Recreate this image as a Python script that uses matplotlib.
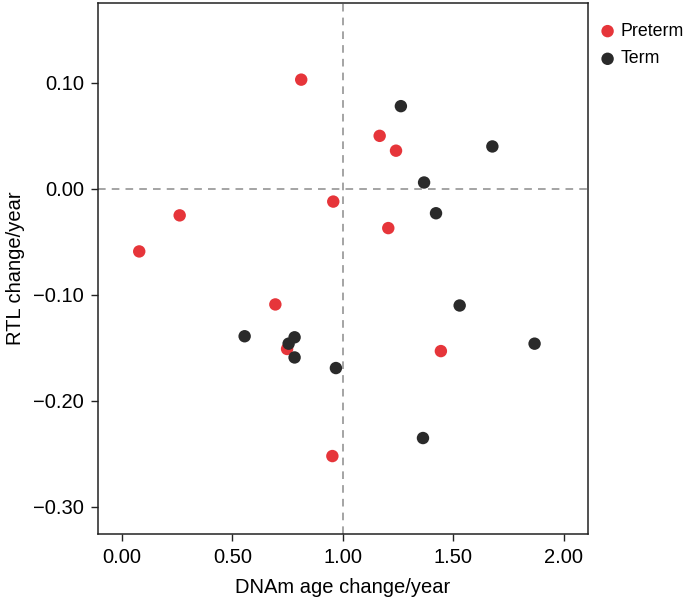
import matplotlib
matplotlib.use("Agg")
import matplotlib.pyplot as plt

plt.rcParams['font.family'] = ['Liberation Sans', 'DejaVu Sans']

preterm_x = [0.811, 0.956, 0.261, 0.078, 1.166, 1.240, 1.205, 0.694, 0.747, 0.952, 1.443]
preterm_y = [0.103, -0.012, -0.025, -0.059, 0.050, 0.036, -0.037, -0.109, -0.151, -0.252, -0.153]

term_x = [1.262, 1.676, 1.367, 1.421, 0.555, 0.781, 0.754, 0.781, 0.968, 1.528, 1.867, 1.362]
term_y = [0.078, 0.040, 0.006, -0.023, -0.139, -0.140, -0.146, -0.159, -0.169, -0.110, -0.146, -0.235]

xticks = [0.0, 0.5, 1.0, 1.5, 2.0]
xtick_labels = ['0.00', '0.50', '1.00', '1.50', '2.00']
yticks = [-0.3, -0.2, -0.1, 0.0, 0.1]
ytick_labels = ['\u22120.30', '\u22120.20', '\u22120.10', '0.00', '0.10']

red = '#E6353A'
dark = '#2A2A2A'

fig = plt.figure(figsize=(6.85, 6.0), dpi=100)
ax = fig.add_axes([0.1426, 0.11, 0.7162, 0.8845])

ax.axvline(1.0, color='#8c8c8c', lw=1.1, ls=(0, (5, 4)), zorder=1)
ax.axhline(0.0, color='#8c8c8c', lw=1.1, ls=(0, (5, 4)), zorder=1)

ax.scatter(preterm_x, preterm_y, s=80, color=red, edgecolors='none', label='Preterm', zorder=3)
ax.scatter(term_x, term_y, s=80, color=dark, edgecolors='none', label='Term', zorder=4)

ax.set_xlim(-0.11, 2.11)
ax.set_ylim(-0.3255, 0.175)
ax.set_xticks(xticks)
ax.set_xticklabels(xtick_labels)
ax.set_yticks(yticks)
ax.set_yticklabels(ytick_labels)
ax.tick_params(direction='out', length=5, width=1, labelsize=14.5, color='#222222', pad=5)
for sp in ax.spines.values():
    sp.set_linewidth(1.1)
    sp.set_color('#222222')

ax.set_xlabel('DNAm age change/year', fontsize=14.5, labelpad=8)
ax.set_ylabel('RTL change/year', fontsize=14.5, labelpad=6)

handles, labels = ax.get_legend_handles_labels()
leg = fig.legend(handles, labels, loc='upper left', bbox_to_anchor=(0.874, 0.962),
                 frameon=False, fontsize=12.8, handlelength=1.0, handletextpad=0.25,
                 borderaxespad=0, borderpad=0, labelspacing=0.6, markerscale=1.0)

fig.savefig('out.png', dpi=100)
